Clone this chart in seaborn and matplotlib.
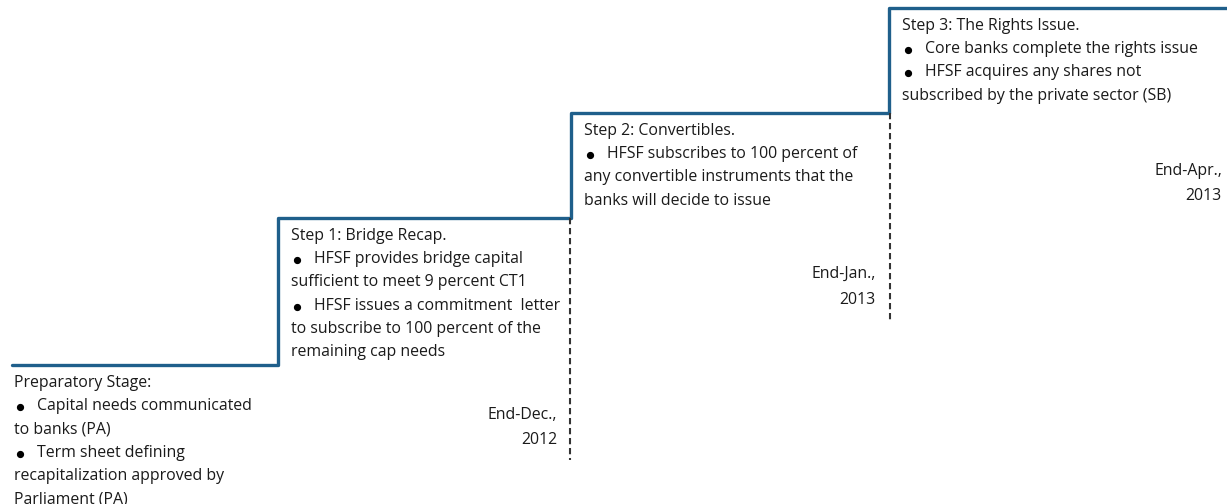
import matplotlib
matplotlib.use("Agg")
import matplotlib.pyplot as plt
import seaborn as sns
import pandas as pd

sns.set_style("white")
plt.rcParams["font.family"] = ["Open Sans", "DejaVu Sans"]

# Staircase: boundaries of each stage (pixel-like units) and the level of each step
stage_edges = [12, 278, 571, 889, 1227]
stage_levels = [365, 218, 113, 8]

# Lines of each stage box; a leading "*" marks a bulleted line
stage_texts = [
    ["Preparatory Stage:",
     "*Capital needs communicated",
     "to banks (PA)",
     "*Term sheet defining",
     "recapitalization approved by",
     "Parliament (PA)"],
    ["Step 1: Bridge Recap.",
     "*HFSF provides bridge capital",
     "sufficient to meet 9 percent CT1",
     "*HFSF issues a commitment  letter",
     "to subscribe to 100 percent of the",
     "remaining cap needs"],
    ["Step 2: Convertibles.",
     "*HFSF subscribes to 100 percent of",
     "any convertible instruments that the",
     "banks will decide to issue"],
    ["Step 3: The Rights Issue.",
     "*Core banks complete the rights issue",
     "*HFSF acquires any shares not",
     "subscribed by the private sector (SB)"],
]

# Deadline labels and the dashed guides at the end of steps 1 and 2
deadlines = [["End-Dec.,", "2012"], ["End-Jan.,", "2013"], ["End-Apr.,", "2013"]]
deadline_y = [415, 274, 171]
deadline_x = [557, 876, 1222]
dash_x = [570, 890]
dash_bottom = [460, 322]

line_color = "#1f5f8b"
text_color = "#1a1a1a"
fs = 11.4

fig = plt.figure(figsize=(12.27, 5.04), dpi=100)
ax = fig.add_axes([0, 0, 1, 1])

df = pd.DataFrame({"x": stage_edges, "y": stage_levels + [stage_levels[-1]]})
sns.lineplot(data=df, x="x", y="y", ax=ax, color=line_color, linewidth=2.4,
             drawstyle="steps-post", sort=False, estimator=None)

ax.vlines(dash_x, [stage_levels[1], stage_levels[2]], dash_bottom,
          colors="#333333", linestyles=(0, (3.0, 1.8)), linewidth=1.5)

gap = 23.2
for i, lines in enumerate(stage_texts):
    x0 = stage_edges[i] + 13 - (11 if i == 0 else 0)
    y0 = stage_levels[i] + 18
    for j, s in enumerate(lines):
        yy = y0 + j * gap
        if s.startswith("*"):
            ax.plot(x0 + 6, yy + 1, "o", color="black", markersize=4.2)
            ax.text(x0 + 23, yy, s[1:], fontsize=fs, color=text_color,
                    va="center", ha="left")
        else:
            ax.text(x0, yy, s, fontsize=fs, color=text_color,
                    va="center", ha="left")

for lab, xx, yy in zip(deadlines, deadline_x, deadline_y):
    for j, s in enumerate(lab):
        ax.text(xx, yy + j * 25.5, s, fontsize=fs, color=text_color,
                va="center", ha="right")

ax.set_xlim(0, 1227)
ax.set_ylim(504, 0)
ax.axis("off")

fig.savefig("out.png", dpi=100)
